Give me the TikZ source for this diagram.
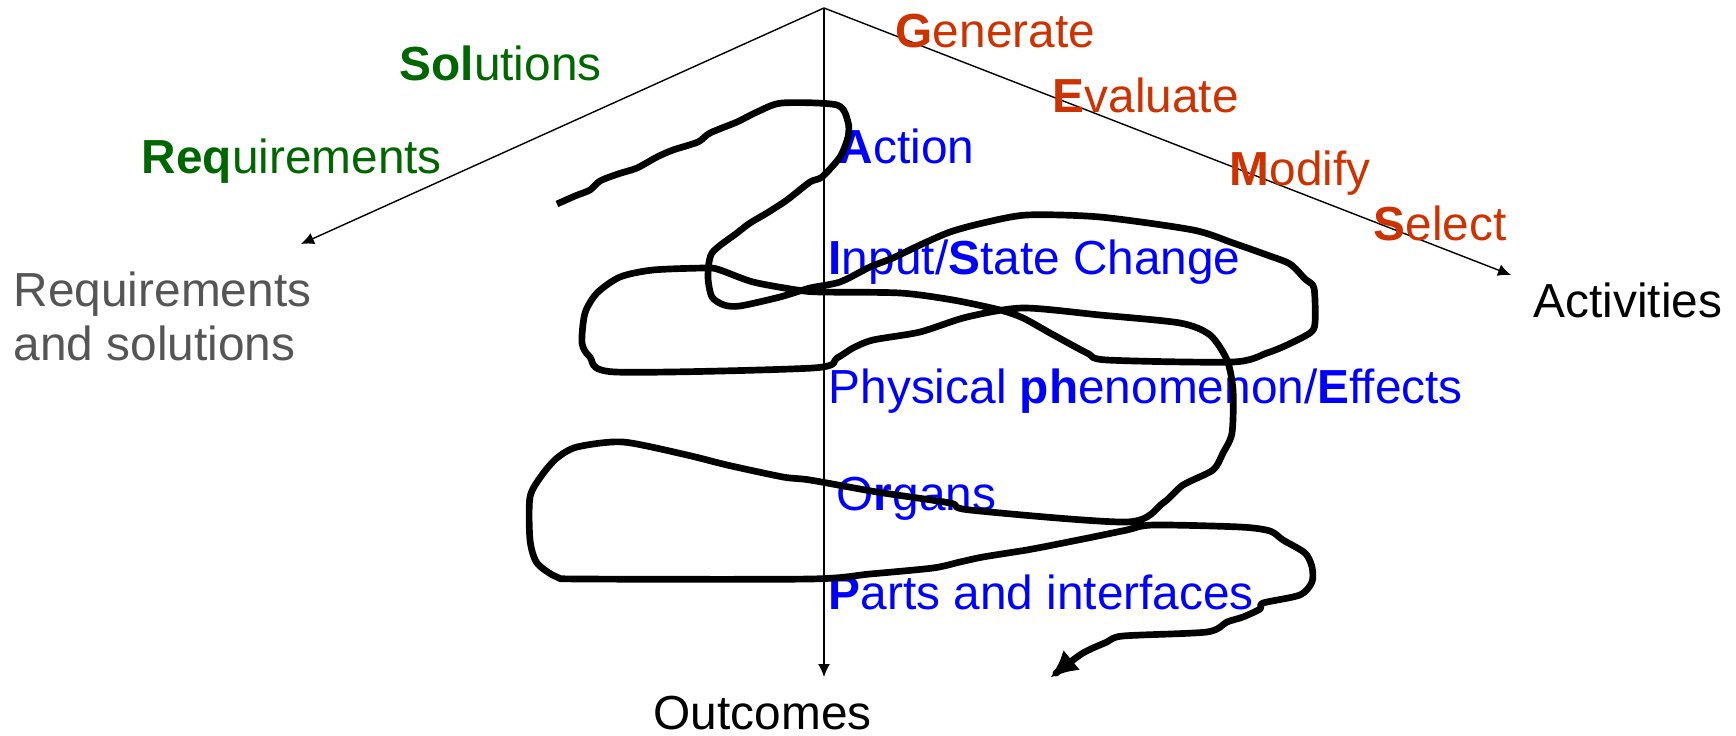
\documentclass[tikz,border=0pt]{standalone}
\usepackage{fontspec}
\setmainfont{Liberation Sans}
\usetikzlibrary{arrows.meta}
\definecolor{solgreen}{RGB}{0,102,0}
\definecolor{actred}{RGB}{204,51,0}
\definecolor{outblue}{RGB}{0,0,255}
\definecolor{labgray}{RGB}{85,85,85}
\tikzset{
  lab/.style={anchor=base west, inner sep=0pt, font=\fontsize{13.6}{15.6}\selectfont},
  axis/.style={line width=0.4pt, -{Latex[length=1.3mm,width=1.2mm]}},
  scribble/.style={line width=1.9pt, line join=round, -{Latex[length=2.8mm,width=2.6mm]}}
}
\begin{document}
\begin{tikzpicture}[x=0.1mm, y=-0.1mm]
			%%%%% START %%%%%
			\useasboundingbox (0,0) rectangle (1736,736);
			
			\coordinate (apex) at (824,8);
			\coordinate (reqend) at (301,244);
			\coordinate (actend) at (1511,275);
			\coordinate (outend) at (824,677);
			
			\draw[axis] (apex) -- (reqend);
			\draw[axis] (apex) -- (actend);
			\draw[axis] (apex) -- (outend);
			
			% requirements side
			\node[lab, text=solgreen] (sol) at (399,81) {\textbf{Sol}utions};
			\node[lab, text=solgreen] (req) at (141,174) {\textbf{Req}uirements};
			\node[lab, text=labgray, align=left] (reqsol) at (13,361) {Requirements\\and solutions};
			
			% activities side
			\node[lab, text=actred] (gen) at (895,48) {\textbf{G}enerate};
			\node[lab, text=actred] (eva) at (1052,113) {\textbf{E}valuate};
			\node[lab, text=actred] (mod) at (1229,186) {\textbf{M}odify};
			\node[lab, text=actred] (sel) at (1373,241) {\textbf{S}elect};
			\node[lab] (act) at (1533,318) {Activities};
			
			% outcomes
			\node[lab, text=outblue] (action) at (838,164) {\textbf{A}ction};
			\node[lab, text=outblue] (input) at (828,275) {\textbf{I}nput/\textbf{S}tate Change};
			\node[lab, text=outblue] (phys) at (828,404) {Physical \textbf{ph}enomenon/\textbf{E}ffects};
			\node[lab, text=outblue] (organs) at (836,511) {O\textbf{r}gans};
			\node[lab, text=outblue] (parts) at (828,609) {\textbf{P}arts and interfaces};
			\node[lab] (outc) at (653,729) {Outcomes};
			
			% the scribble
			\draw[scribble] plot[smooth, tension=0.45] coordinates {
			  (557,204) (575,196) (590,190) (600,181) (618,174) (637,168) (657,157)
			  (673,150) (698,142) (710,133) (737,122) (757,112) (782,103) (837,105)
			  (848,122) (848,137) (840,157) (822,177) (810,182) (787,200) (767,213)
			  (750,223) (737,233) (712,253) (708,277) (712,297) (724,305) (740,306)
			  (780,297) (810,288) (840,282) (870,267) (893,258) (920,245) (950,232)
			  (983,223) (1027,215) (1100,217) (1193,230) (1233,243) (1267,255)
			  (1290,264) (1305,279) (1314,288) (1315,323) (1310,333) (1287,345)
			  (1267,353) (1233,362) (1107,360) (1087,353) (1050,333) (1023,318)
			  (1000,310) (953,300) (900,293) (820,292) (797,290) (753,282) (720,270)
			  (707,268) (653,270) (620,277) (597,293) (585,313) (582,343) (590,357)
			  (615,372) (813,368) (837,358) (853,348) (873,340) (920,332) (967,317)
			  (1023,308) (1100,315) (1180,323) (1210,335) (1227,360) (1233,390)
			  (1232,433) (1223,453) (1213,470) (1183,485) (1163,503) (1127,522)
			  (970,510) (950,503) (877,492) (810,480) (783,477) (727,465) (687,455)
			  (623,442) (577,447) (557,458) (542,475) (530,497) (530,540) (537,563)
			  (557,577) (583,579) (810,579) (870,574) (933,568) (960,562) (983,557)
			  (1027,550) (1043,547) (1093,537) (1127,530) (1153,525) (1240,527)
			  (1270,531) (1283,540) (1305,553) (1312,567) (1312,582) (1300,595)
			  (1263,603) (1260,609) (1243,617) (1227,622) (1207,632) (1123,636)
			  (1107,642) (1083,653) (1060,670) (1050,678)};
			%%%%% END %%%%%
\end{tikzpicture}
\end{document}
